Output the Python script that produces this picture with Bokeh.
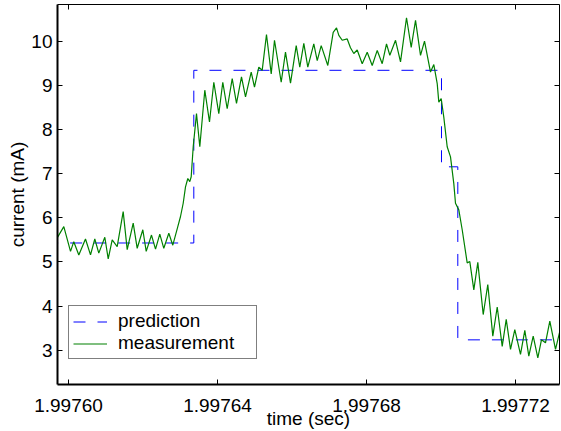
from bokeh.plotting import figure
from bokeh.models import (FixedTicker, PrintfTickFormatter, LinearAxis, Legend,
                          LegendItem, Range1d)
from bokeh.embed import file_html
from bokeh.resources import INLINE

# ---- data -------------------------------------------------------------
T0 = 1.99760  # seconds; offsets below are in microseconds after T0

meas_t_us = [-3.0, -1.26, 0.54, 1.42, 2.77, 4.56, 5.91, 7.06, 8.13, 9.75,
             10.66, 11.73, 13.07, 14.68, 15.76, 17.37, 18.44, 19.95, 20.86,
             22.28, 23.36, 24.51, 25.58, 26.93, 28.00, 29.18, 30.07, 30.79,
             31.41, 32.03, 32.56, 32.94, 33.48, 34.36, 35.25, 36.59, 37.85,
             39.01, 40.35, 41.42, 42.60, 43.95, 45.10, 46.44, 47.52, 49.05,
             49.93, 51.09, 52.00, 53.15, 54.42, 55.30, 57.10, 58.25, 59.60,
             61.13, 62.09, 63.17, 64.24, 65.85, 66.77, 67.84, 69.61, 71.06,
             71.95, 72.57, 73.48, 74.82, 75.70, 76.59, 77.50, 78.85, 80.19,
             81.53, 82.88, 84.22, 85.37, 86.26, 87.79, 89.13, 90.74, 92.00,
             93.16, 94.50, 95.57, 97.18, 98.07, 98.98, 99.41, 100.05, 100.75,
             101.66, 102.55, 103.43, 103.89, 104.78, 105.69, 107.03, 107.73,
             108.81, 109.88, 111.33, 112.56, 113.91, 115.09, 116.43, 117.51,
             118.66, 119.81, 121.34, 122.50, 123.57, 124.75, 125.99, 126.98,
             128.05, 129.21, 130.74, 131.89]
meas_mA = [5.55, 5.80, 5.24, 5.46, 5.16, 5.52, 5.16, 5.52, 5.20, 5.56,
           5.07, 5.50, 5.35, 6.14, 5.28, 5.88, 5.31, 5.73, 5.24,
           5.61, 5.29, 5.63, 5.31, 5.65, 5.38, 5.75, 6.03, 6.33,
           6.70, 6.89, 6.82, 6.93, 7.61, 8.36, 7.61, 8.89, 8.17,
           9.07, 8.36, 9.07, 8.47, 9.15, 8.59, 9.19, 8.74, 9.30,
           8.96, 9.41, 9.34, 10.15, 9.26, 10.02, 9.07, 9.75, 9.05,
           9.90, 9.41, 9.95, 9.41, 9.94, 9.56, 9.90, 9.45, 10.20,
           10.30, 10.13, 10.02, 10.05, 9.85, 9.72, 9.80, 9.49, 9.75,
           9.45, 9.79, 9.49, 9.94, 9.68, 10.02, 9.53, 10.53, 9.86,
           10.47, 9.68, 10.00, 9.30, 9.47, 9.04, 8.62, 8.70, 8.28,
           7.61, 7.38, 6.78, 6.33, 6.18, 5.73, 4.98, 5.01,
           4.37, 4.99, 3.81, 4.49, 3.32, 3.98, 3.09, 3.70,
           3.02, 3.47, 2.91, 3.45, 2.87, 3.32, 2.83, 3.24,
           3.17, 3.66, 3.02, 3.43]

# predicted current (mA): level changes (step "after")
pred_t_us = [-6.0, 33.64, 100.13, 104.51, 136.0]
pred_mA = [5.43, 9.34, 7.155, 3.237, 3.237]

x_ticks = [1.99760, 1.99764, 1.99768, 1.99772]
y_ticks = [3, 4, 5, 6, 7, 8, 9, 10]

meas_t = [T0 + u * 1e-6 for u in meas_t_us]
pred_t = [T0 + u * 1e-6 for u in pred_t_us]

# ---- figure -----------------------------------------------------------
FONT = "Liberation Sans"

p = figure(width=561, height=431, output_backend="svg", toolbar_location=None,
           x_range=Range1d(T0 - 2.953e-6, T0 + 131.81e-6),
           y_range=Range1d(2.226, 10.83),
           min_border_left=57, min_border_right=2, min_border_top=4,
           min_border_bottom=46)
p.outline_line_color = None
p.xgrid.visible = False
p.ygrid.visible = False
p.background_fill_color = "white"
p.border_fill_color = "white"

pred = p.step(pred_t, pred_mA, mode="after", line_color="#0000ff",
              line_width=1, line_dash="12 12")
meas = p.line(meas_t, meas_mA, line_color="#008000", line_width=1.2)

xa = p.xaxis[0]
xa.ticker = FixedTicker(ticks=x_ticks)
xa.formatter = PrintfTickFormatter(format="%.5f")
ya = p.yaxis[0]
ya.ticker = FixedTicker(ticks=y_ticks)

for ax in (xa, ya):
    ax.major_tick_in = 5
    ax.major_tick_out = 0
    ax.minor_tick_line_color = None
    ax.axis_line_color = "black"
    ax.axis_line_width = 2
    ax.major_tick_line_color = "black"
    ax.major_label_text_font = FONT
    ax.major_label_text_font_size = "19px"
    ax.major_label_text_color = "black"
    ax.axis_label_text_font = FONT
    ax.axis_label_text_font_size = "19px"
    ax.axis_label_text_font_style = "normal"
    ax.axis_label_text_color = "black"

xa.axis_label = "time (sec)"
xa.major_label_standoff = 14
xa.axis_label_standoff = -7
ya.axis_label = "current (mA)"
ya.major_label_standoff = 5
ya.axis_label_standoff = 0

top = LinearAxis(ticker=FixedTicker(ticks=x_ticks))
right = LinearAxis(ticker=FixedTicker(ticks=y_ticks))
for ax in (top, right):
    ax.major_tick_in = 5
    ax.major_tick_out = 0
    ax.minor_tick_line_color = None
    ax.axis_line_color = "black"
    ax.axis_line_width = 1
    ax.major_tick_line_color = "black"
    ax.major_label_text_font_size = "0px"
    ax.major_label_text_color = None
    ax.major_label_standoff = 0
p.add_layout(top, "above")
p.add_layout(right, "right")

legend = Legend(items=[LegendItem(label="prediction", renderers=[pred]),
                       LegendItem(label="measurement", renderers=[meas])],
                location=(11, 25))
legend.label_text_font = FONT
legend.label_text_font_size = "19px"
legend.label_text_color = "black"
legend.border_line_color = "black"
legend.border_line_width = 1
legend.background_fill_color = "white"
legend.background_fill_alpha = 1
legend.glyph_width = 34
legend.glyph_height = 19
legend.label_height = 19
legend.label_standoff = 11
legend.padding = 4
legend.spacing = 0
legend.label_width = 134
legend.margin = 0
p.add_layout(legend, "center")

open("out.html", "w").write(file_html(p, INLINE))
